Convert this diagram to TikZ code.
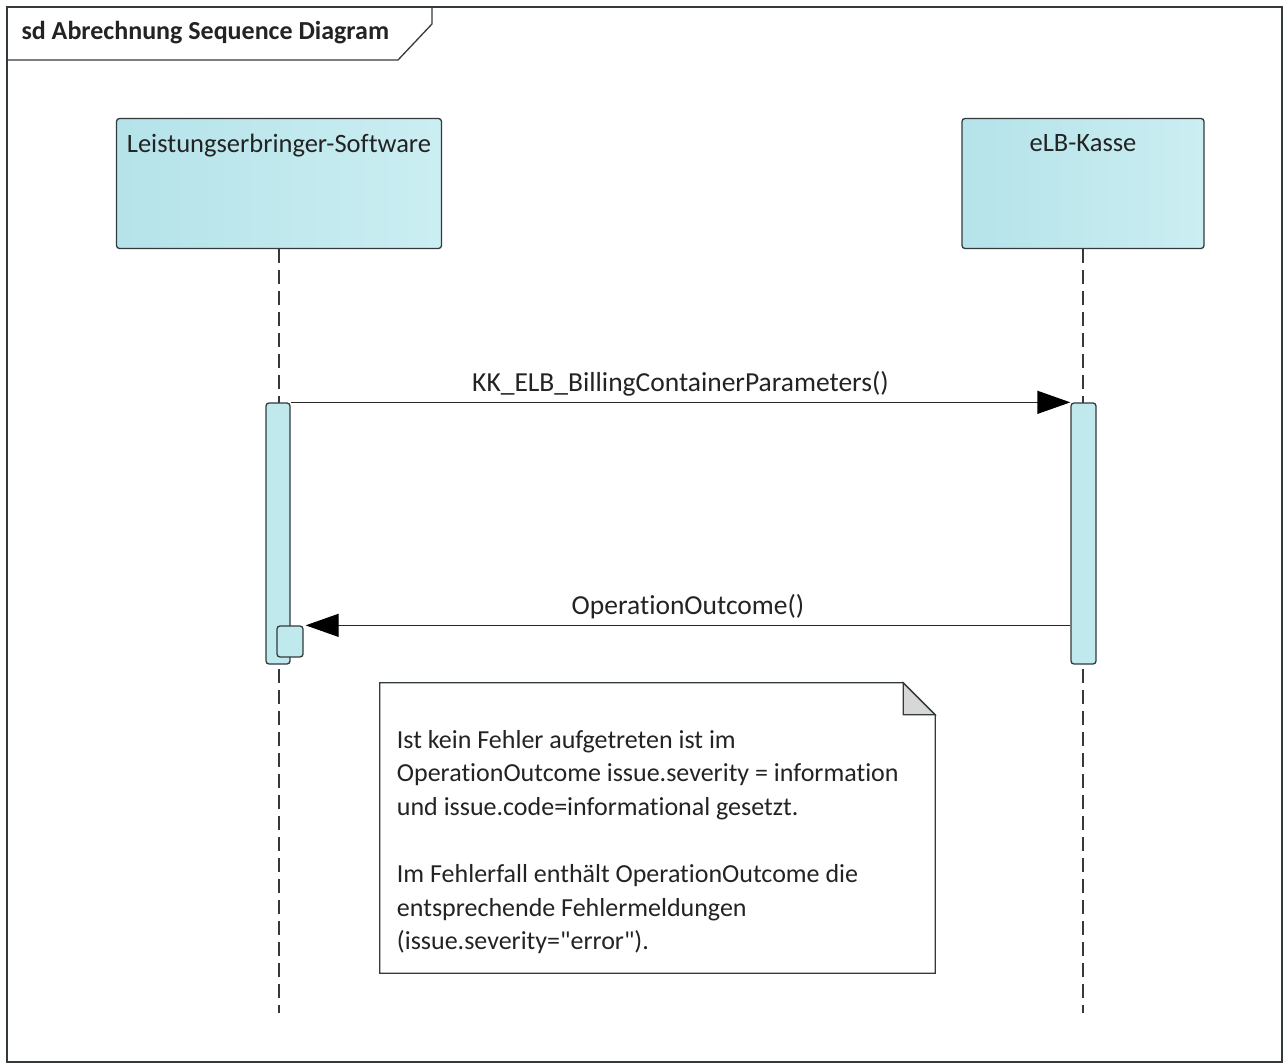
\documentclass[tikz,border=0pt]{standalone}
\usepackage{fontspec}
\setmainfont{Carlito}[Ligatures={NoCommon,TeXOff}]
\usepackage{tikz}
\usetikzlibrary{positioning, arrows.meta}
\definecolor{linegray}{RGB}{50,58,62}
\definecolor{cyanL}{RGB}{180,227,233}
\definecolor{cyanR}{RGB}{203,238,242}
\definecolor{cyanA}{RGB}{192,233,238}
\definecolor{foldgray}{RGB}{215,215,215}
\definecolor{textgray}{RGB}{35,35,35}

\begin{document}
\begin{tikzpicture}[x=1pt, y=-1pt, font=\fontsize{26}{33.6}\selectfont, text=textgray]
  \tikzstyle{lifehead} = [rectangle, draw=linegray, rounded corners=3pt, left color=cyanL, right color=cyanR, minimum height=130pt, line width=1.3pt]
  \tikzstyle{headtext} = [font=\fontsize{26.5}{32}\selectfont]
  \tikzstyle{activation} = [rectangle, draw=linegray, rounded corners=3pt, fill=cyanA, line width=1.3pt]
  \tikzstyle{lifeline} = [draw=linegray, dash pattern=on 14pt off 7pt, line width=1.3pt]
  \tikzstyle{message} = [draw=black!85, line width=1.3pt, -{Triangle[length=33pt, width=23pt, color=black]}]
  \tikzstyle{msgtext} = [above=2pt, font=\fontsize{27.5}{32}\selectfont]
  \tikzstyle{notebox} = [rectangle, draw=none, minimum width=555pt, minimum height=290pt]
  \tikzstyle{notetext} = [align=left, anchor=north west]
  \useasboundingbox (0,0) rectangle (1283,1064);
  % frame and title tab
  \draw[linegray, line width=1.3pt] (7,7) rectangle (1282,1062);
  \node[anchor=west, font=\fontsize{26}{30}\selectfont\bfseries] (title) at (18,33) {sd Abrechnung Sequence Diagram};
  \draw[linegray, line width=1.3pt] (7,60) -- (398,60) -- (432,24) -- (432,7);
  % lifelines
  \node[lifehead, minimum width=325pt] (lbs) at (279,183.5) {};
  \node[headtext, below=13pt of lbs.north] (lbsname) {Leistungserbringer-Software};
  \node[lifehead, minimum width=242pt] (kasse) at (1083,183.5) {};
  \node[headtext, below=13pt of kasse.north] (kassename) {eLB-Kasse};
  \coordinate (lbsend) at (279,1013);
  \coordinate (kasseend) at (1083,1013);
  \path[lifeline] (lbs.south) -- (lbsend);
  \path[lifeline] (kasse.south) -- (kasseend);
  % activations
  \node[activation, minimum width=24pt, minimum height=261pt] (actL) at (278,533.5) {};
  \node[activation, minimum width=26pt, minimum height=31pt] (actL2) at (290,641.5) {};
  \node[activation, minimum width=25pt, minimum height=261pt] (actR) at (1083.5,533.5) {};
  % messages
  \path[message] (actL.north east) -- node[msgtext] (m1) {KK\_ELB\_BillingContainerParameters()} (actR.north west);
  \path[message] (actR.west |- actL2.north) -- node[msgtext] (m2) {OperationOutcome()} ([xshift=2pt]actL2.north east);
  % note
  \node[notebox] (note) at (657.5,828) {};
  \draw[linegray, fill=white, line width=1.3pt] (note.north west) -- ([xshift=-32pt]note.north east) -- ([yshift=-32pt]note.north east) -- (note.south east) -- (note.south west) -- cycle;
  \draw[linegray, fill=foldgray, line width=1.3pt] ([xshift=-32pt]note.north east) -- ([xshift=-32pt, yshift=-32pt]note.north east) -- ([yshift=-32pt]note.north east) -- cycle;
  \node[notetext] (notetxt) at ([xshift=13.6pt, yshift=-44pt]note.north west) {Ist kein Fehler aufgetreten ist im\\
    OperationOutcome issue.severity = information\\
    und issue.code=informational gesetzt.\\[33.6pt]
    Im Fehlerfall enthält OperationOutcome die\\
    entsprechende Fehlermeldungen\\
    (issue.severity="error").};
\end{tikzpicture}
\end{document}
